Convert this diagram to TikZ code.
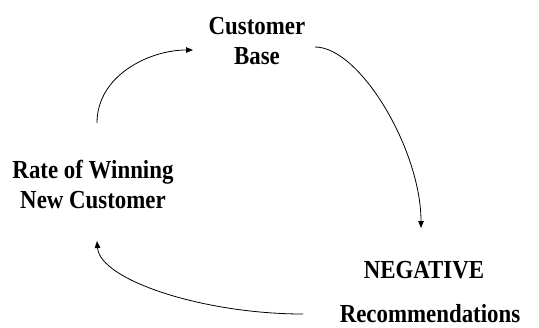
\documentclass[tikz,border=0pt]{standalone}
\usepackage{fontspec}
\setmainfont[FakeStretch=0.88]{Liberation Serif}
\usetikzlibrary{arrows.meta,calc}
\begin{document}
\begin{tikzpicture}[x=1bp,y=-1bp,
  lbl/.style={font=\fontsize{26bp}{30bp}\selectfont\bfseries, align=center, inner sep=0pt},
  conn/.style={line width=0.8bp, -{Triangle[length=7bp,width=5.5bp]}}]
\useasboundingbox (0,0) rectangle (539,327);
% variables of the loop (base = baseline of the last line)
\node[lbl, anchor=base] (cb)   at (257,64)  {Customer\\Base};
\node[lbl, anchor=base] (rate) at (93,208)  {Rate of Winning\\New Customer};
\node[lbl, anchor=base] (neg)  at (424,278) {NEGATIVE};
\node[lbl, anchor=base] (rec)  at (430,322) {Recommendations};
% causal links
\draw[conn] ($(rate.base)+(4,-85)$) .. controls +(0,-48) and +(-43,0) .. ($(cb.base)+(-64,-14)$);
\draw[conn] ($(cb.base)+(58,-17)$) .. controls +(45,0) and +(0,-78) .. ($(neg.base)+(-3,-50)$);
\draw[conn] ($(rec.base)+(-127,-8)$) .. controls +(-100,0) and +(3,39) .. ($(rate.base)+(4,33)$);
\end{tikzpicture}
\end{document}
